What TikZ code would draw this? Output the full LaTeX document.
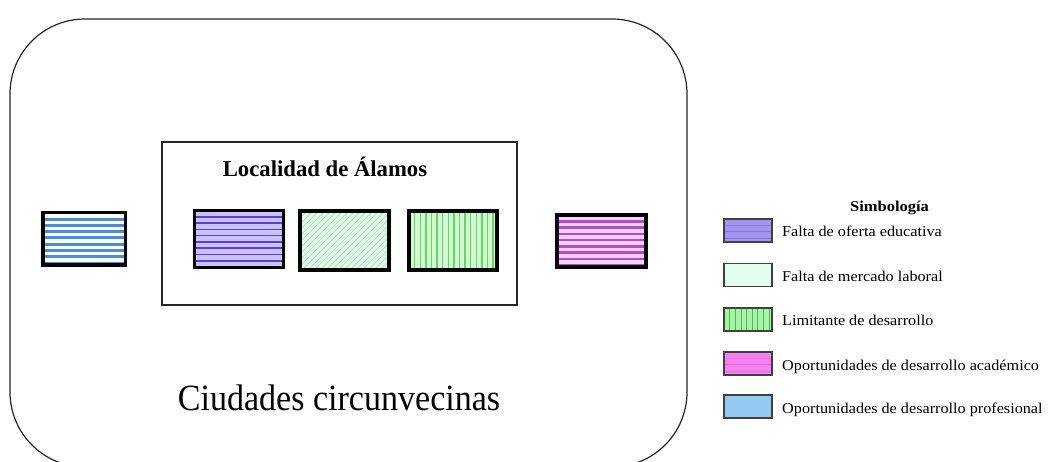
\documentclass[tikz,border=0pt]{standalone}
\usepackage{fontspec}
\setmainfont{Liberation Serif}
\newfontfamily\legfont[FakeStretch=1.08]{Liberation Serif}
\newfontfamily\simbfont[FakeStretch=1.1]{Liberation Serif}
\newfontfamily\ciudfont[FakeStretch=0.92]{Liberation Serif}
\usetikzlibrary{calc}
\definecolor{purpfill}{HTML}{C9C2F2}
\definecolor{purpline}{HTML}{5A3CE0}
\definecolor{mintfill}{HTML}{E4FBEC}
\definecolor{mintline}{HTML}{A8E8BC}
\definecolor{grnfill}{HTML}{D6F6D6}
\definecolor{grnline}{HTML}{5CDC5C}
\definecolor{bluline}{HTML}{4A8CDC}
\definecolor{magfill}{HTML}{F6D2F6}
\definecolor{magline}{HTML}{B24CCC}
\definecolor{lgpurp}{HTML}{A295EC}
\definecolor{lgmint}{HTML}{E2FFF0}
\definecolor{lggrn}{HTML}{A4F5A4}
\definecolor{lgmag}{HTML}{F282F2}
\definecolor{lgblu}{HTML}{94CAF2}
\tikzset{
  mapbox/.style={draw=black, line width=3.5pt, inner sep=0pt, minimum width=88, minimum height=56},
  hstripes/.style 2 args={path picture={
      \foreach \i in {1,...,14}
        \draw[#1, line width=#2] ($(path picture bounding box.north west)+(-2,\i*6.3)$) -- ++(120,0);}},
  vstripes/.style 2 args={path picture={
      \foreach \i in {1,...,20}
        \draw[#1, line width=#2] ($(path picture bounding box.north west)+(\i*5.6,-2)$) -- ++(0,90);}},
  dstripes/.style 2 args={path picture={
      \foreach \i in {-14,...,20}
        \draw[#1, line width=#2] ($(path picture bounding box.south west)+(\i*6,2)$) -- ++(80,-80);}},
  legbox/.style={draw=black!75, line width=1.8pt, inner sep=0pt, minimum width=48, minimum height=23},
  legtext/.style={anchor=base west, inner sep=0pt, font=\legfont\fontsize{15}{17}\selectfont},
}
\begin{document}
\begin{tikzpicture}[x=1pt, y=-1pt]
\useasboundingbox (0,0) rectangle (1052,462);
\fill[white] (0,0) rectangle (1052,462);
\begin{scope}
\clip (0,0) rectangle (1052,462);
\draw[draw=black!85, line width=1.2pt, rounded corners=75] (10,19) rectangle (687,467);
\end{scope}
\node[draw=black!85, line width=1.2pt, minimum width=355, minimum height=163, inner sep=0pt] (inner) at (339.5,223.5) {};
\node[font=\bfseries\fontsize{22.7}{26}\selectfont, inner sep=0pt, anchor=base] (title) at (325,177) {Localidad de Álamos};
\node[mapbox, minimum width=82.5, minimum height=52.5, fill=white, hstripes={bluline}{3pt}] (blue) at (84,239) {};
\node[mapbox, minimum width=89, minimum height=57, fill=purpfill, hstripes={purpline}{1.6pt}] (purple) at (239,239) {};
\node[mapbox, minimum width=89, minimum height=59, fill=mintfill, dstripes={mintline}{0.9pt}] (mint) at (344.5,240.5) {};
\node[mapbox, minimum width=88, minimum height=59, fill=grnfill, vstripes={grnline}{1.4pt}] (green) at (453,240.5) {};
\node[mapbox, minimum width=89, minimum height=52, fill=magfill, hstripes={magline}{2.6pt}] (magenta) at (601.5,241) {};
\node[font=\ciudfont\fontsize{37}{40}\selectfont, inner sep=0pt, anchor=base] (ciud) at (339,410) {Ciudades circunvecinas};
% legend
\node[font=\simbfont\bfseries\fontsize{15}{17}\selectfont, inner sep=0pt, anchor=base] (simb) at (889.5,212) {Simbología};
\node[legbox, fill=lgpurp, hstripes={lgpurp!80!blue}{0.4pt}] (l1) at (748,230.5) {};
\node[legtext] (t1) at (782,237) {Falta de oferta educativa};
\node[legbox, fill=lgmint] (l2) at (748,275) {};
\node[legtext] (t2) at (782,281.5) {Falta de mercado laboral};
\node[legbox, fill=lggrn, vstripes={lggrn!80!green!70!black}{0.3pt}] (l3) at (748,319.5) {};
\node[legtext] (t3) at (782,326) {Limitante de desarrollo};
\node[legbox, fill=lgmag, hstripes={lgmag!85!purple}{0.4pt}] (l4) at (748,363.5) {};
\node[legtext] (t4) at (782,370) {Oportunidades de desarrollo académico};
\node[legbox, fill=lgblu] (l5) at (748,406.5) {};
\node[legtext] (t5) at (782,413) {Oportunidades de desarrollo profesional};
\end{tikzpicture}
\end{document}
